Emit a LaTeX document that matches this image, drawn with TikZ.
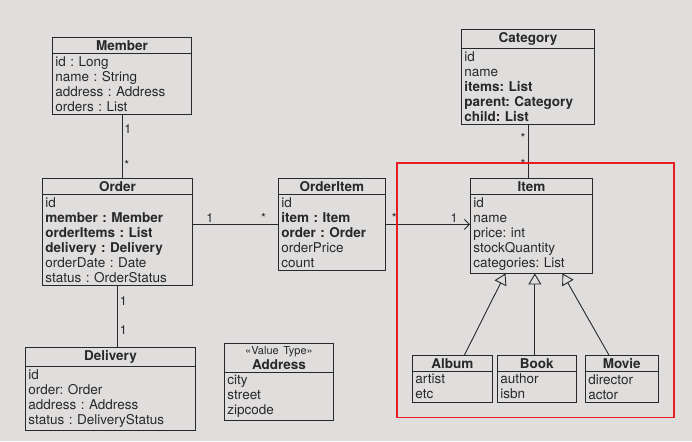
\documentclass[tikz,border=0pt]{standalone}
\usepackage{fontspec}
\setmainfont{TeX Gyre Heros}
\frenchspacing
\definecolor{paper}{RGB}{224,222,221}
\definecolor{ink}{RGB}{40,40,42}
\definecolor{markred}{RGB}{232,28,36}
\usetikzlibrary{shapes.multipart, arrows.meta, positioning, fit}
\newcommand{\cname}[1]{\makebox[\hsize]{\bfseries #1}}

\begin{document}
\begin{tikzpicture}[x=1pt, y=-1pt,
    cls/.style={rectangle split, rectangle split parts=2, draw=ink, line width=0.9pt,
                text=ink, text width=#1, align=left, inner xsep=3pt, inner ysep=2.5pt,
                font=\fontsize{13.5}{15}\selectfont},
    cls/.default=100pt,
    mult/.style={text=ink, inner sep=2pt, font=\fontsize{12.5}{12.5}\selectfont},
    link/.style={draw=ink, line width=0.9pt},
    nav/.style={link, -{Straight Barb[length=5pt, width=10pt]}},
    inherit/.style={link, -{Triangle[open, length=11pt, width=13pt]}},
    highlight/.style={draw=markred, line width=1.6pt, inner sep=15pt}
  ]
  \path[use as bounding box, fill=paper] (0,0) rectangle (692,441);

  \node[cls=133pt, anchor=north west] (member) at (52,37)
    {\cname{Member}
     \nodepart{second}id : Long\\name : String\\address : Address\\orders : List};
  \node[cls=144pt, anchor=north west] (order) at (42,178)
    {\cname{Order}
     \nodepart{second}id\\\textbf{member : Member}\\\textbf{orderItems : List}\\
     \textbf{delivery : Delivery}\\orderDate : Date\\status : OrderStatus};
  \node[cls=164pt, anchor=north west] (delivery) at (25,347)
    {\cname{Delivery}
     \nodepart{second}id\\order: Order\\address : Address\\status : DeliveryStatus};
  \node[cls=103pt, anchor=north west] (address) at (224,343)
    {\makebox[\hsize]{\fontsize{11}{11}\selectfont «Value Type»}\\\cname{Address}
     \nodepart{second}city\\street\\zipcode};
  \node[cls=101pt, anchor=north west] (orderitem) at (278,178)
    {\cname{OrderItem}
     \nodepart{second}id\\\textbf{item : Item}\\\textbf{order : Order}\\orderPrice\\count};
  \node[cls=127pt, anchor=north west] (category) at (461,29)
    {\cname{Category}
     \nodepart{second}id\\name\\\textbf{items: List}\\\textbf{parent: Category}\\\textbf{child: List}};
  \node[cls=116pt, anchor=north west] (item) at (470,178)
    {\cname{Item}
     \nodepart{second}id\\name\\price: int\\stockQuantity\\categories: List};
  \node[cls=74pt, anchor=north west] (album) at (412,355)
    {\cname{Album}\nodepart{second}artist\\etc};
  \node[cls=73pt, right=4pt of album] (book)
    {\cname{Book}\nodepart{second}author\\isbn};
  \node[cls=67pt, right=8pt of book] (movie)
    {\cname{Movie}\nodepart{second}director\\actor};

  % associations
  \draw[link] (member.south) -- (member.south |- order.north)
    node[mult, right, pos=0.22] {1} node[mult, right, pos=0.8] {*};
  \draw[link] (order.south) -- (order.south |- delivery.north)
    node[mult, right, pos=0.24] {1} node[mult, right, pos=0.73] {1};
  \draw[link] (orderitem.west -| order.east) -- (orderitem.west)
    node[mult, above, pos=0.2] {1} node[mult, above, pos=0.83] {*};
  \draw[nav] (orderitem.east) -- (orderitem.east -| item.west)
    node[mult, above, pos=0.1] {*} node[mult, above, pos=0.81] {1};
  \draw[link] (category.south) -- (category.south |- item.north)
    node[mult, left, pos=0.25] {*} node[mult, left, pos=0.74] {*};

  % inheritance
  \draw[inherit] ([xshift=12pt]album.north) -- ([xshift=-26pt]item.south);
  \draw[inherit] ([xshift=-2pt]book.north) -- ([xshift=-2pt]book.north |- item.south);
  \draw[inherit] ([xshift=-13pt]movie.north) -- ([xshift=31pt]item.south);

  \node[highlight, fit=(item)(album)(book)(movie)] (focus) {};
\end{tikzpicture}
\end{document}
